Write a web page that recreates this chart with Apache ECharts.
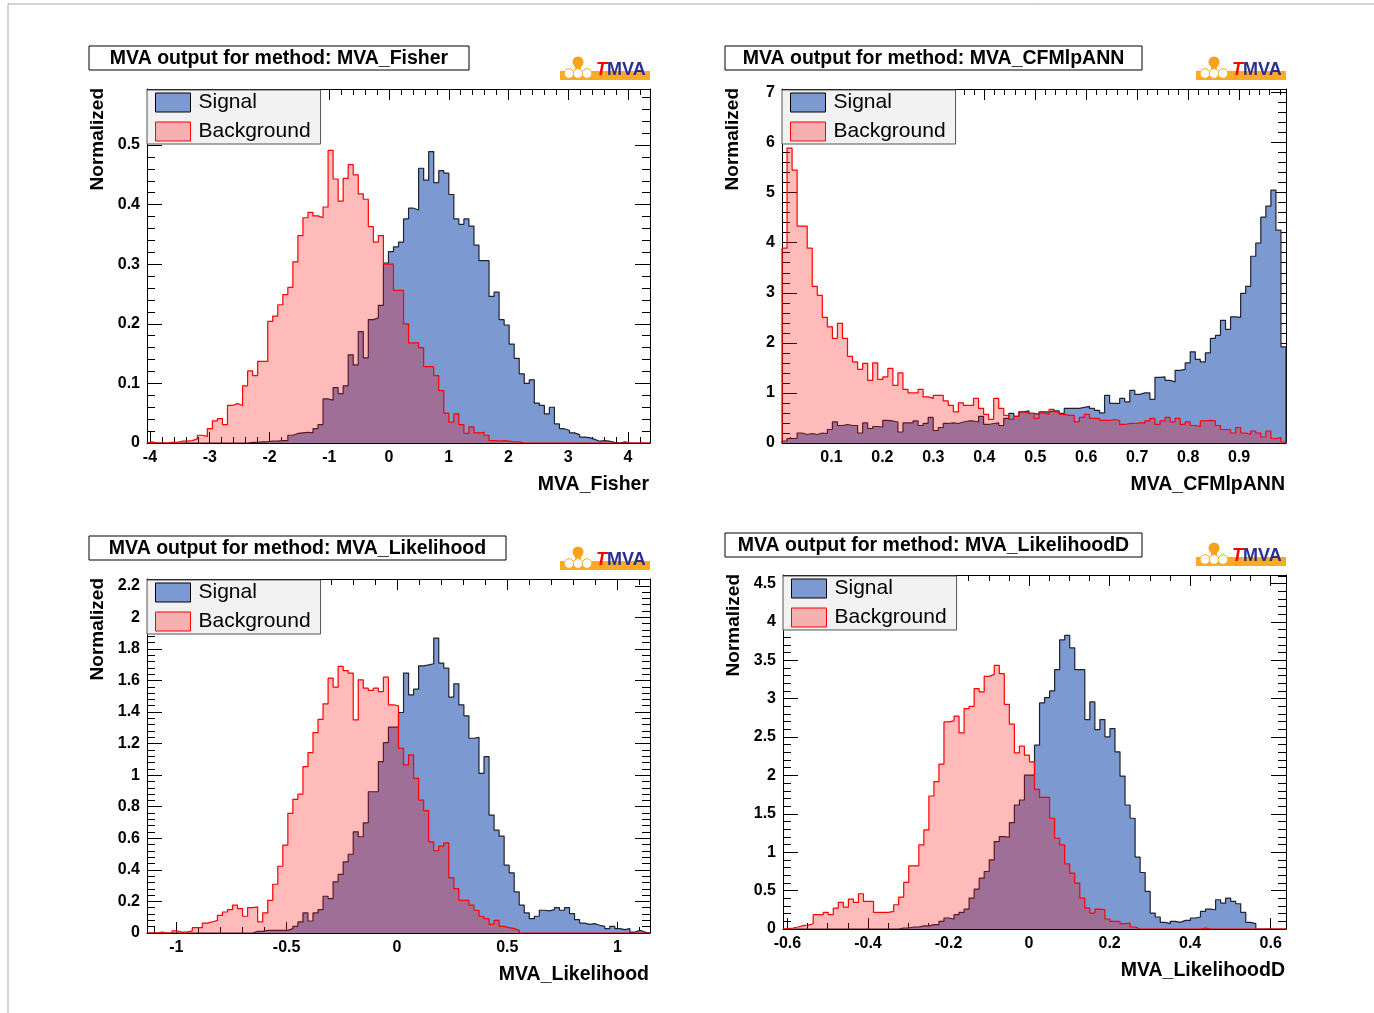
<!DOCTYPE html>
<html>
<head>
<meta charset="utf-8">
<script src="https://cdn.jsdelivr.net/npm/echarts@6/dist/echarts.min.js"></script>
<style>
html, body { margin: 0; padding: 0; background: #fff; }
#main { width: 1374px; height: 1013px; }
</style>
</head>
<body>
<div id="main"></div>
<script>
// histogram ranges (100 bins each)
var fisherRange = [-4.05, 4.368];
var cfmRange = [0.003, 0.992];
var likeRange = [-1.133, 1.147];
var likeDRange = [-0.611, 0.638];

// MVA_Fisher
var fisherSig = [0,0,0,0,0,0,0,0,0,0, 0,0,0,0,0,0,0,0,0,0,
    0.001,0.001,0.002,0.002,0.003,0.003,0.004,0.004,0.013,0.016,
    0.017,0.018,0.017,0.024,0.031,0.074,0.072,0.093,0.083,0.096,
    0.148,0.131,0.187,0.143,0.207,0.21,0.231,0.302,0.321,0.329,
    0.337,0.376,0.394,0.391,0.461,0.441,0.489,0.437,0.457,0.453,
    0.417,0.376,0.367,0.376,0.364,0.332,0.306,0.306,0.246,0.253,
    0.207,0.198,0.166,0.142,0.116,0.1,0.106,0.067,0.063,0.049,
    0.06,0.032,0.024,0.021,0.017,0.014,0.01,0.009,0.006,0.003,
    0.004,0.003,0.001,0,0.002,0,0,0,0,0];
var fisherBkg = [0.002,0,0,0,0.001,0.001,0.003,0.003,0.004,0.007,
    0.013,0.011,0.024,0.037,0.041,0.031,0.063,0.066,0.063,0.096,
    0.121,0.113,0.137,0.137,0.204,0.213,0.232,0.249,0.261,0.304,
    0.348,0.378,0.387,0.381,0.378,0.396,0.491,0.443,0.406,0.444,
    0.467,0.45,0.418,0.409,0.363,0.337,0.348,0.3,0.3,0.256,
    0.256,0.2,0.168,0.168,0.16,0.128,0.128,0.113,0.088,0.05,
    0.035,0.049,0.031,0.016,0.027,0.017,0.018,0.013,0.004,0.003,
    0.004,0.003,0.002,0.002,0,0,0,0,0,0,
    0,0,0,0,0,0,0,0,0,0, 0,0,0,0,0,0,0,0,0,0];

// MVA_CFMlpANN
var cfmSig = [0.04,0.09,0.09,0.2,0.17,0.19,0.17,0.2,0.19,0.27,
    0.42,0.35,0.37,0.35,0.35,0.2,0.4,0.29,0.33,0.32,
    0.45,0.44,0.42,0.22,0.4,0.4,0.44,0.35,0.39,0.51,
    0.25,0.31,0.39,0.4,0.39,0.42,0.44,0.44,0.42,0.53,
    0.37,0.39,0.4,0.35,0.49,0.59,0.53,0.62,0.64,0.59,
    0.57,0.62,0.62,0.64,0.64,0.59,0.69,0.69,0.69,0.71,
    0.73,0.69,0.65,0.6,0.95,0.79,0.79,0.89,0.82,1.05,
    0.97,1.0,1.0,0.87,1.31,1.32,1.25,1.22,1.45,1.47,
    1.6,1.82,1.67,1.62,1.8,2.09,2.15,2.45,2.27,2.52,
    2.51,2.99,3.13,3.73,3.99,4.51,4.73,5.05,4.25,1.92];
var cfmBkg = [3.89,5.89,5.45,4.33,4.33,3.89,3.13,2.95,2.51,2.32,
    2.09,2.39,2.09,1.73,1.62,1.47,1.59,1.25,1.6,1.27,
    1.32,1.49,1.15,1.4,1.07,1.0,1.0,1.07,0.92,0.89,
    0.95,0.95,0.84,0.75,0.62,0.8,0.75,0.75,0.89,0.69,
    0.57,0.47,0.89,0.69,0.55,0.47,0.53,0.62,0.59,0.59,
    0.49,0.6,0.57,0.67,0.62,0.57,0.55,0.55,0.42,0.51,
    0.57,0.49,0.49,0.45,0.45,0.47,0.45,0.37,0.39,0.39,
    0.4,0.4,0.44,0.49,0.37,0.44,0.51,0.42,0.49,0.37,
    0.42,0.35,0.33,0.44,0.45,0.44,0.35,0.27,0.27,0.2,
    0.31,0.2,0.17,0.24,0.2,0.12,0.24,0.09,0.11,0.02];

// MVA_Likelihood
var likeSig = [0,0,0,0,0,0,0,0,0,0, 0,0,0,0,0,0,0,0,0,0,
    0,0.01,0.01,0.017,0.017,0.017,0.017,0.017,0.028,0.042,
    0.07,0.127,0.076,0.127,0.148,0.233,0.218,0.324,0.372,0.451,
    0.499,0.641,0.61,0.698,0.895,0.895,1.086,1.206,1.304,1.304,
    1.397,1.647,1.509,1.545,1.693,1.699,1.706,1.869,1.71,1.678,
    1.494,1.579,1.446,1.376,1.234,1.24,1.012,1.117,0.747,0.652,
    0.614,0.43,0.381,0.26,0.176,0.127,0.091,0.106,0.144,0.14,
    0.148,0.161,0.144,0.161,0.123,0.085,0.063,0.055,0.059,0.049,
    0.042,0.028,0.042,0.028,0.021,0.028,0.006,0.017,0.006,0];
var likeBkg = [0,0,0.006,0,0,0.013,0.005,0.006,0.013,0.034,
    0.034,0.063,0.07,0.08,0.112,0.133,0.148,0.176,0.155,0.106,
    0.161,0.165,0.07,0.127,0.207,0.309,0.423,0.557,0.758,0.847,
    0.88,1.054,1.143,1.27,1.354,1.452,1.615,1.558,1.689,1.663,
    1.647,1.35,1.604,1.551,1.537,1.551,1.53,1.621,1.446,1.439,
    1.17,1.065,1.128,0.98,0.842,0.775,0.578,0.521,0.55,0.571,
    0.351,0.281,0.207,0.207,0.176,0.144,0.106,0.091,0.055,0.08,
    0.042,0.034,0.028,0.017,0,0,0,0,0,0,
    0,0,0,0,0,0,0,0,0,0, 0,0,0,0,0,0,0,0,0,0];

// MVA_LikelihoodD
var likeDSig = [0,0,0,0,0,0,0,0,0,0, 0,0,0,0,0,0,0,0,0,0,
    0,0,0,0.013,0.013,0.026,0.026,0.04,0.04,0.056,
    0.056,0.1,0.143,0.13,0.186,0.216,0.26,0.403,0.519,0.662,
    0.749,0.9,1.139,1.203,1.195,1.385,1.615,1.68,2.004,2.004,
    2.394,2.944,3.013,3.1,3.377,3.766,3.823,3.662,3.377,3.377,
    2.727,2.957,2.597,2.727,2.502,2.61,2.307,1.991,1.615,1.442,
    0.935,0.736,0.489,0.208,0.156,0.087,0.069,0.1,0.087,0.113,
    0.113,0.143,0.156,0.229,0.26,0.251,0.381,0.338,0.403,0.359,
    0.329,0.216,0.087,0.069,0,0,0,0,0,0];
var likeDBkg = [0.004,0.013,0.026,0.043,0.05,0.069,0.186,0.186,0.216,0.186,
    0.273,0.346,0.286,0.39,0.346,0.459,0.359,0.359,0.216,0.216,
    0.216,0.229,0.316,0.416,0.606,0.823,0.823,1.095,1.29,1.732,
    1.918,2.147,2.697,2.71,2.771,2.554,2.87,2.9,3.13,3.087,
    3.29,3.316,3.433,3.325,2.926,2.667,2.294,2.381,2.264,2.177,
    1.818,1.714,1.714,1.442,1.182,1.095,0.848,0.727,0.597,0.403,
    0.273,0.208,0.26,0.251,0.13,0.1,0.1,0.069,0.078,0.026,
    0,0,0,0,0,0,0,0,0,0, 0,0,0,0.013,0,0,0,0,0,0,
    0,0,0,0,0,0,0,0,0,0];

// tick labels
var fisherXTicks = [-4, -3, -2, -1, 0, 1, 2, 3, 4];
var fisherYTicks = [0, 0.1, 0.2, 0.3, 0.4, 0.5];
var cfmXTicks = [0.1, 0.2, 0.3, 0.4, 0.5, 0.6, 0.7, 0.8, 0.9];
var cfmYTicks = [0, 1, 2, 3, 4, 5, 6, 7];
var likeXTicks = [-1, -0.5, 0, 0.5, 1];
var likeYTicks = [0, 0.2, 0.4, 0.6, 0.8, 1, 1.2, 1.4, 1.6, 1.8, 2, 2.2];
var likeDXTicks = [-0.6, -0.4, -0.2, 0, 0.2, 0.4, 0.6];
var likeDYTicks = [0, 0.5, 1, 1.5, 2, 2.5, 3, 3.5, 4, 4.5];

var FONT = '"Liberation Sans", Arial, Helvetica, sans-serif';
var SIG_FILL = '#7d99d1', SIG_LINE = '#20222e', BKG_LINE = '#ff0000', ORANGE = '#fbaa22';
var BKG_FILL = 'rgba(255,0,0,0.27)';

var panels = [
    { method: 'MVA_Fisher', range: fisherRange, sig: fisherSig, bkg: fisherBkg, yMax: 0.594,
      xTicks: fisherXTicks, xMinor: 0.2, yTicks: fisherYTicks, yMinor: 0.02,
      grid: { left: 147, top: 89, width: 503, height: 354 }, box: [89, 46, 380, 24] },
    { method: 'MVA_CFMlpANN', range: cfmRange, sig: cfmSig, bkg: cfmBkg, yMax: 7.07,
      xTicks: cfmXTicks, xMinor: 0.02, yTicks: cfmYTicks, yMinor: 0.2,
      grid: { left: 782, top: 89, width: 504, height: 354 }, box: [725, 46, 417, 24] },
    { method: 'MVA_Likelihood', range: likeRange, sig: likeSig, bkg: likeBkg, yMax: 2.243,
      xTicks: likeXTicks, xMinor: 0.1, yTicks: likeYTicks, yMinor: 0.04,
      grid: { left: 147, top: 579, width: 503, height: 354 }, box: [89, 536, 417, 24] },
    { method: 'MVA_LikelihoodD', range: likeDRange, sig: likeDSig, bkg: likeDBkg, yMax: 4.61,
      xTicks: likeDXTicks, xMinor: 0.05, yTicks: likeDYTicks, yMinor: 0.1,
      grid: { left: 783, top: 575, width: 503, height: 354 }, box: [725, 533, 417, 24] }
];

var histPoints = function (range, vals) {
    var n = vals.length, w = (range[1] - range[0]) / n;
    var pts = [[range[0], 0]];
    for (var i = 0; i < n; i++) {
        pts.push([range[0] + i * w, vals[i]]);
    }
    pts.push([range[1], vals[n - 1]]);
    pts.push([range[1], 0]);
    return pts;
};

var minorTicks = function (lo, hi, step, majors) {
    var out = [];
    var k0 = Math.ceil(lo / step - 1e-9), k1 = Math.floor(hi / step + 1e-9);
    for (var k = k0; k <= k1; k++) {
        var v = +(k * step).toFixed(6);
        if (majors.indexOf(v) < 0) out.push(v);
    }
    return out;
};

var makeAxis = function (gi, min, max, pos, ticks, len, showLine, showLabels) {
    return {
        gridIndex: gi, type: 'value', min: min, max: max, position: pos,
        splitLine: { show: false },
        axisPointer: { show: false },
        axisLine: { show: showLine, onZero: false, lineStyle: { color: '#000', width: 1 } },
        axisTick: { show: true, inside: true, length: len, customValues: ticks,
            lineStyle: { color: '#000', width: 1 } },
        axisLabel: showLabels ? {
            show: true, customValues: ticks, margin: 7, fontSize: 16, fontWeight: 'bold',
            color: '#000', fontFamily: FONT
        } : { show: false }
    };
};

var grids = [], xAxes = [], yAxes = [], series = [], legends = [], graphics = [];

// page frame
graphics.push({ type: 'line', shape: { x1: 8, y1: 4, x2: 1374, y2: 4 }, style: { stroke: '#a8a8a8', lineWidth: 1 } });
graphics.push({ type: 'line', shape: { x1: 8, y1: 4, x2: 8, y2: 1013 }, style: { stroke: '#a8a8a8', lineWidth: 1 } });

panels.forEach(function (p, gi) {
    grids.push(p.grid);
    var xm = minorTicks(p.range[0], p.range[1], p.xMinor, p.xTicks);
    var ym = minorTicks(0, p.yMax, p.yMinor, p.yTicks);
    var xi = xAxes.length, yi = yAxes.length;
    xAxes.push(makeAxis(gi, p.range[0], p.range[1], 'bottom', p.xTicks, 11, true, true));
    xAxes.push(makeAxis(gi, p.range[0], p.range[1], 'bottom', xm, 6, false, false));
    xAxes.push(makeAxis(gi, p.range[0], p.range[1], 'top', p.xTicks, 11, true, false));
    xAxes.push(makeAxis(gi, p.range[0], p.range[1], 'top', xm, 6, false, false));
    yAxes.push(makeAxis(gi, 0, p.yMax, 'left', p.yTicks, 15, true, true));
    yAxes.push(makeAxis(gi, 0, p.yMax, 'left', ym, 8, false, false));
    yAxes.push(makeAxis(gi, 0, p.yMax, 'right', p.yTicks, 15, true, false));
    yAxes.push(makeAxis(gi, 0, p.yMax, 'right', ym, 8, false, false));

    series.push({
        type: 'line', name: 'Signal', xAxisIndex: xi, yAxisIndex: yi,
        data: histPoints(p.range, p.sig), step: 'end', symbol: 'none', showSymbol: false,
        lineStyle: { color: SIG_LINE, width: 1.2 }, itemStyle: { color: SIG_FILL },
        areaStyle: { color: SIG_FILL, opacity: 1 }, z: 2, silent: true
    });
    series.push({
        type: 'line', name: 'Background', xAxisIndex: xi, yAxisIndex: yi,
        data: histPoints(p.range, p.bkg), step: 'end', symbol: 'none', showSymbol: false,
        lineStyle: { color: BKG_LINE, width: 1.2 }, itemStyle: { color: BKG_LINE },
        areaStyle: { color: BKG_FILL, opacity: 1 }, z: 3, silent: true
    });

    legends.push({
        left: p.grid.left, top: p.grid.top + 1, orient: 'vertical',
        itemWidth: 35, itemHeight: 19, itemGap: 8, padding: [2, 10, 2, 8],
        backgroundColor: '#f2f2f2', borderColor: '#555', borderWidth: 1,
        selectedMode: false,
        textStyle: { fontSize: 21, color: '#000', fontFamily: FONT, lineHeight: 19, padding: [0, 0, 0, 3] },
        data: [
            { name: 'Signal', icon: 'rect', itemStyle: { color: SIG_FILL, borderColor: '#000', borderWidth: 1 } },
            { name: 'Background', icon: 'rect', itemStyle: { color: BKG_FILL, borderColor: BKG_LINE, borderWidth: 1 } }
        ]
    });

    var L = p.grid.left, T = p.grid.top, R = L + p.grid.width, B = T + p.grid.height;

    // title box
    graphics.push({ type: 'rect', shape: { x: p.box[0], y: p.box[1], width: p.box[2], height: p.box[3] },
        style: { fill: '#fff', stroke: '#000', lineWidth: 1 } });
    graphics.push({ type: 'text', x: p.box[0] + p.box[2] / 2, y: p.box[1] + p.box[3] / 2 + 1,
        style: { text: 'MVA output for method: ' + p.method, fill: '#000', fontSize: 19.5, fontWeight: 'bold',
            fontFamily: FONT, align: 'center', verticalAlign: 'middle' } });

    // axis titles
    graphics.push({ type: 'text', x: L - 49, y: T - 1, rotation: Math.PI / 2,
        style: { text: 'Normalized', fill: '#000', fontSize: 19, fontWeight: 'bold', fontFamily: FONT,
            align: 'right', verticalAlign: 'middle' } });
    graphics.push({ type: 'text', x: R - 1, y: B + 42,
        style: { text: p.method, fill: '#000', fontSize: 19.5, fontWeight: 'bold', fontFamily: FONT,
            align: 'right', verticalAlign: 'middle' } });

    // TMVA logo
    graphics.push({ type: 'rect', shape: { x: R - 90, y: T - 18, width: 90, height: 9 }, style: { fill: ORANGE } });
    graphics.push({ type: 'rect', shape: { x: R - 75, y: T - 26, width: 6, height: 8 }, style: { fill: ORANGE } });
    graphics.push({ type: 'circle', shape: { cx: R - 72, cy: T - 27, r: 5.5 }, style: { fill: '#f7a21b' } });
    [R - 81, R - 72, R - 63].forEach(function (cx) {
        graphics.push({ type: 'circle', shape: { cx: cx, cy: T - 15.5, r: 4.8 },
            style: { fill: '#fff', stroke: ORANGE, lineWidth: 1 } });
    });
    graphics.push({ type: 'text', x: R - 54, y: T - 10,
        style: { text: '{t|T}{m|MVA}', verticalAlign: 'bottom', align: 'left',
            rich: {
                t: { fill: '#ff0000', fontSize: 18, fontWeight: 'bold', fontStyle: 'italic', fontFamily: FONT },
                m: { fill: '#2b2f8f', fontSize: 18, fontWeight: 'bold', fontFamily: FONT }
            } } });
});

var myChart = echarts.init(document.getElementById('main'), null, { renderer: 'canvas' });
myChart.setOption({
    animation: false,
    backgroundColor: '#fff',
    grid: grids,
    xAxis: xAxes,
    yAxis: yAxes,
    legend: legends,
    series: series,
    graphic: graphics
});
</script>
</body>
</html>
